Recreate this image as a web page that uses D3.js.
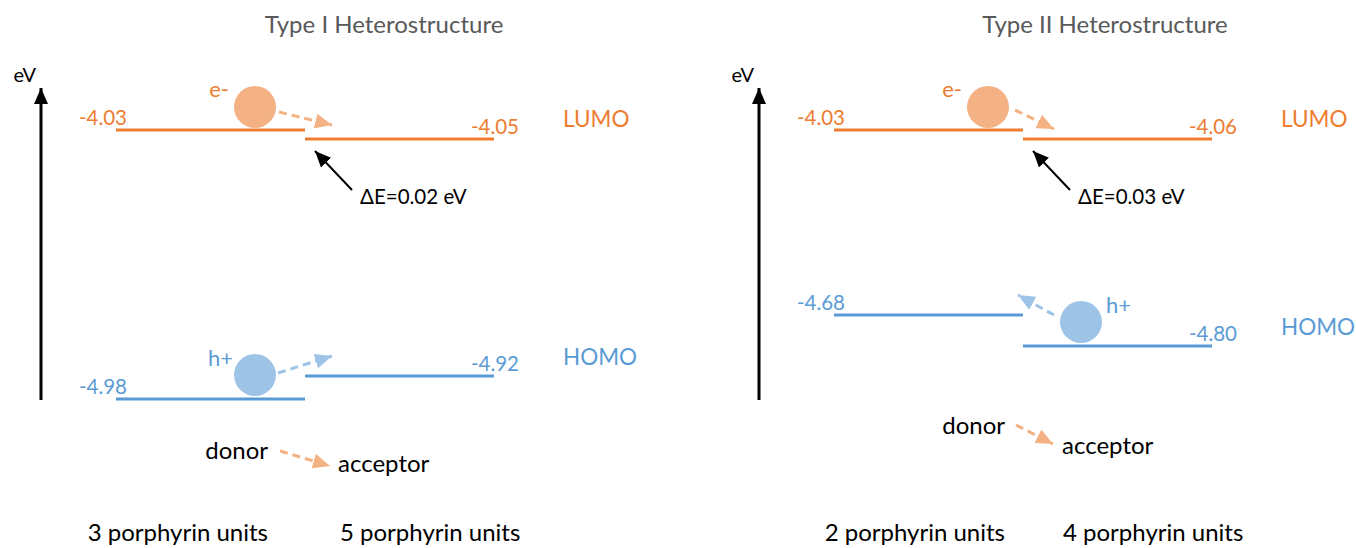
<!DOCTYPE html>
<html><head><meta charset="utf-8">
<script src="https://cdn.jsdelivr.net/npm/d3@7"></script>
<style>
html,body{margin:0;padding:0;background:#fff;}
svg{display:block;font-family:Lato,"Open Sans",sans-serif;}
</style></head>
<body>
<svg id="chart" width="1356" height="548"></svg>
<script>
// ---- data ----
const panelTitles = ["Type I Heterostructure", "Type II Heterostructure"];
const roles = ["donor", "acceptor"];
const donorUnits = ["3 porphyrin units", "2 porphyrin units"];
const acceptorUnits = ["5 porphyrin units", "4 porphyrin units"];
const lumoDonor = [-4.03, -4.03];
const lumoAcceptor = [-4.05, -4.06];
const homoDonor = [-4.98, -4.68];
const homoAcceptor = [-4.92, -4.80];
const deltaE = [0.02, 0.03];

// ---- style ----
const C = {
  lumo: "#ED7D31", lumoLight: "#F4B183",
  homo: "#5B9BD5", homoLight: "#9DC3E6",
  title: "#595959", text: "#000"
};
const FS = { title: 24, label: 24, value: 20.5, band: 22.5, delta: 20.5, charge: 22, ev: 20 };

const svg = d3.select("#chart");
const defs = svg.append("defs");
function marker(id, color, w, h) {
  defs.append("marker").attr("id", id)
    .attr("viewBox", `0 0 ${w} ${h}`).attr("refX", w).attr("refY", h / 2)
    .attr("markerWidth", w).attr("markerHeight", h)
    .attr("markerUnits", "userSpaceOnUse").attr("orient", "auto")
    .append("path").attr("d", `M0,0L${w},${h / 2}L0,${h}Z`).attr("fill", color);
}
marker("blk", "#000", 16, 14);
marker("org", C.lumoLight, 17, 15);
marker("blu", C.homoLight, 17, 15);

const fmt = v => v.toFixed(2);

// per-panel layout (pixel positions only)
const layout = [
  { dx: 0,   eSide: "donor", eOff: 139, hSide: "donor", hOff: 139, lumoLblY: 126, homoLblY: 364,
    hLabelLeft: true, donorTxt: [268, 459], accTxt: [338, 472], dArrow: [[280, 451], [330, 466]],
    unitD: -37, unitA: 35 },
  { dx: 718, eSide: "donor", eOff: 154, hSide: "acceptor", hOff: 58, lumoLblY: 126, homoLblY: 334,
    hLabelLeft: false, donorTxt: [1005, 434], accTxt: [1062, 454], dArrow: [[1016, 425], [1053, 444]],
    unitD: -18, unitA: 40 }
];

panelTitles.forEach((title, i) => {
  const L = layout[i];
  const g = svg.append("g");
  const x = d3.scaleBand().domain(roles).range([116 + L.dx, 494 + L.dx]).paddingInner(0);
  const lv = [homoDonor[i], homoAcceptor[i], lumoAcceptor[i], lumoDonor[i]];
  // schematic (non-linear) energy axis: piecewise linear mapping
  const yDom = lv.slice().sort((a, b) => a - b);
  const y = d3.scaleLinear().domain(yDom)
    .range(i === 0 ? [399, 376, 139, 130] : [346, 315, 139, 130]);

  // title
  g.append("text").attr("x", 384 + L.dx + (i ? 3 : 0)).attr("y", 33)
    .attr("text-anchor", "middle").attr("font-size", FS.title).attr("fill", C.title).text(title);

  // eV axis
  const ax = 41 + L.dx;
  g.append("line").attr("x1", ax).attr("x2", ax).attr("y1", 400).attr("y2", 88)
    .attr("stroke", "#000").attr("stroke-width", 3).attr("marker-end", "url(#blk)");
  g.append("text").attr("x", ax - 5).attr("y", 82).attr("text-anchor", "end")
    .attr("font-size", FS.ev).attr("fill", C.text).text("eV");

  const levels = [
    { role: "donor", v: lumoDonor[i], c: C.lumo },
    { role: "acceptor", v: lumoAcceptor[i], c: C.lumo },
    { role: "donor", v: homoDonor[i], c: C.homo },
    { role: "acceptor", v: homoAcceptor[i], c: C.homo }
  ];
  g.selectAll("line.lvl").data(levels).enter().append("line").attr("class", "lvl")
    .attr("x1", d => x(d.role)).attr("x2", d => x(d.role) + x.bandwidth())
    .attr("y1", d => y(d.v)).attr("y2", d => y(d.v))
    .attr("stroke", d => d.c).attr("stroke-width", 3);
  g.selectAll("text.val").data(levels).enter().append("text").attr("class", "val")
    .attr("x", d => d.role === "donor" ? x(d.role) + 11 : x(d.role) + x.bandwidth() + 25)
    .attr("y", d => y(d.v) - 5)
    .attr("text-anchor", "end").attr("font-size", FS.value).attr("fill", d => d.c)
    .text(d => fmt(d.v));

  // LUMO / HOMO labels
  g.append("text").attr("x", 563 + L.dx).attr("y", L.lumoLblY + 1).attr("font-size", FS.band)
    .attr("fill", C.lumo).text("LUMO");
  g.append("text").attr("x", 563 + L.dx).attr("y", L.homoLblY + 1).attr("font-size", FS.band)
    .attr("fill", C.homo).text("HOMO");

  // electron
  const ex = x(L.eSide) + L.eOff, ey = y(lumoDonor[i]) - 23;
  g.append("circle").attr("cx", ex).attr("cy", ey).attr("r", 21).attr("fill", C.lumoLight);
  g.append("text").attr("x", ex - 26).attr("y", ey - 10).attr("text-anchor", "end")
    .attr("font-size", FS.charge).attr("fill", C.lumo).text("e-");
  const accL = y(lumoAcceptor[i]);
  const eTip = i === 0 ? [x("acceptor") + 27, accL - 14] : [x("acceptor") + 31, accL - 10];
  const eStart = i === 0 ? [ex + 24, ey + 5] : [ex + 27, ey + 3];
  g.append("line").attr("x1", eStart[0]).attr("y1", eStart[1]).attr("x2", eTip[0]).attr("y2", eTip[1])
    .attr("stroke", C.lumoLight).attr("stroke-width", 3).attr("stroke-dasharray", "8,5")
    .attr("marker-end", "url(#org)");

  // hole
  const hv = L.hSide === "donor" ? homoDonor[i] : homoAcceptor[i];
  const hx = x(L.hSide) + L.hOff, hy = y(hv) - 24;
  g.append("circle").attr("cx", hx).attr("cy", hy).attr("r", 21).attr("fill", C.homoLight);
  g.append("text").attr("x", L.hLabelLeft ? hx - 22 : hx + 25).attr("y", hy - 9)
    .attr("text-anchor", L.hLabelLeft ? "end" : "start")
    .attr("font-size", FS.charge).attr("fill", C.homo).text("h+");
  let hStart, hTip;
  if (i === 0) { hStart = [hx + 23, hy - 2]; hTip = [x("acceptor") + 27, y(homoAcceptor[i]) - 20]; }
  else { hStart = [hx - 27, hy - 7]; hTip = [x("acceptor") - 5, y(homoDonor[i]) - 20]; }
  g.append("line").attr("x1", hStart[0]).attr("y1", hStart[1]).attr("x2", hTip[0]).attr("y2", hTip[1])
    .attr("stroke", C.homoLight).attr("stroke-width", 3).attr("stroke-dasharray", "8,5")
    .attr("marker-end", "url(#blu)");

  // Delta E annotation
  const ax0 = x("acceptor");
  g.append("line").attr("x1", ax0 + 47).attr("y1", 190).attr("x2", ax0 + 10).attr("y2", 151)
    .attr("stroke", "#000").attr("stroke-width", 2).attr("marker-end", "url(#blk)");
  g.append("text").attr("x", ax0 + 55).attr("y", 204).attr("font-size", FS.delta)
    .attr("fill", C.text).text("ΔE=" + deltaE[i].toFixed(2) + " eV");

  // donor -> acceptor legend
  g.append("text").attr("x", L.donorTxt[0]).attr("y", L.donorTxt[1]).attr("text-anchor", "end")
    .attr("font-size", FS.label).attr("fill", C.text).text(roles[0]);
  g.append("text").attr("x", L.accTxt[0]).attr("y", L.accTxt[1])
    .attr("font-size", FS.label).attr("fill", C.text).text(roles[1]);
  g.append("line").attr("x1", L.dArrow[0][0]).attr("y1", L.dArrow[0][1])
    .attr("x2", L.dArrow[1][0]).attr("y2", L.dArrow[1][1])
    .attr("stroke", C.lumoLight).attr("stroke-width", 3).attr("stroke-dasharray", "8,5")
    .attr("marker-end", "url(#org)");

  // unit labels
  g.append("text").attr("x", x("donor") + x.bandwidth() + L.unitD).attr("y", 541).attr("text-anchor", "end")
    .attr("font-size", FS.label).attr("fill", C.text).text(donorUnits[i]);
  g.append("text").attr("x", x("acceptor") + L.unitA).attr("y", 541)
    .attr("font-size", FS.label).attr("fill", C.text).text(acceptorUnits[i]);
});
</script>
</body></html>
